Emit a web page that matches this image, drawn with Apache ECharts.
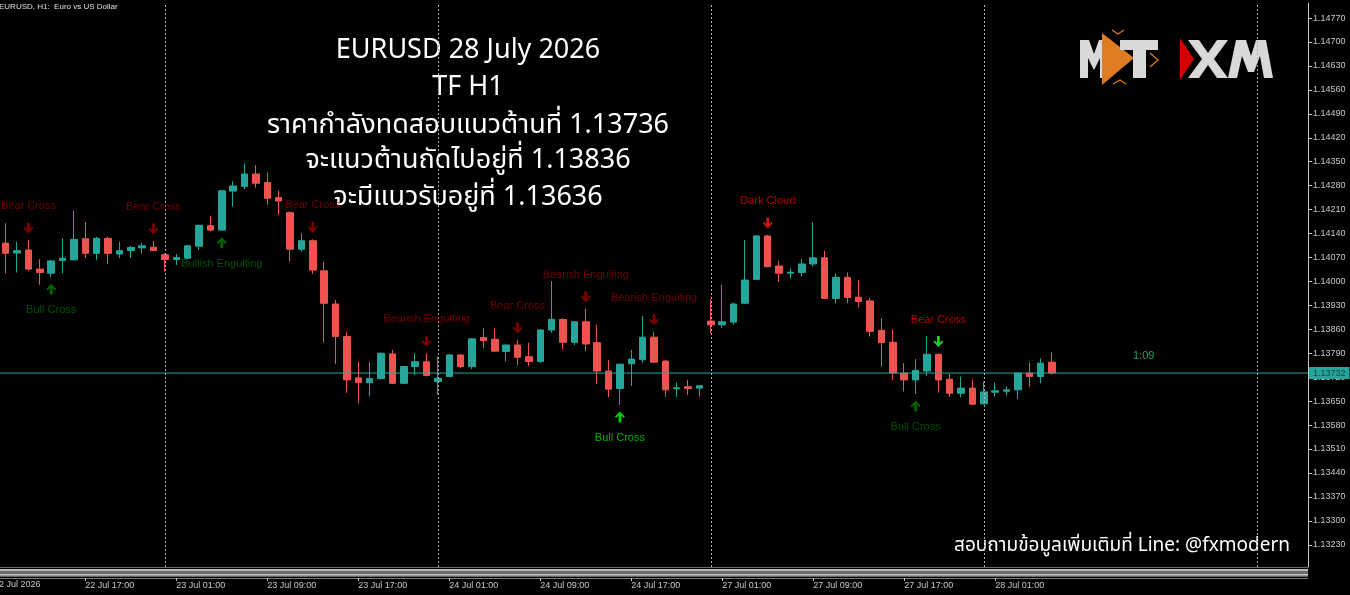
<!DOCTYPE html>
<html><head><meta charset="utf-8">
<script src="https://cdn.jsdelivr.net/npm/echarts@6/dist/echarts.min.js"></script>
<style>html,body{margin:0;padding:0;background:#000;overflow:hidden}#c{width:1350px;height:595px;}</style>
</head><body><div id="c"></div><script>
// ---- data ----
const dayRanges = [['22 Jul',10,23],['23 Jul',0,23],['24 Jul',0,23],['27 Jul',0,23],['28 Jul',0,23],['29 Jul',0,4]];
const categories = [];
dayRanges.forEach(d => { for (let h = d[1]; h <= d[2]; h++) categories.push(d[0] + ' ' + (h < 10 ? '0' : '') + h + ':00'); });

const opens  = [1.14112,1.14083,1.14092,1.14036,1.14024,1.14061,1.14063,1.14125,1.14082,1.14126,1.14080,1.14090,1.14098,1.14100,1.14078,1.14064,1.14068,1.14103,1.14163,1.14150,1.14264,1.14278,1.14314,1.14289,1.14245,1.14201,1.14094,1.14119,1.14031,1.13934,1.13839,1.13718,1.13704,1.13716,1.13788,1.13702,1.13751,1.13765,1.13707,1.13722,1.13785,1.13751,1.13836,1.13831,1.13795,1.13814,1.13780,1.13766,1.13858,1.13889,1.13822,1.13882,1.13821,1.13738,1.13687,1.13759,1.13771,1.13837,1.13767,1.13686,1.13692,1.13688,1.13884,1.13873,1.13881,1.13936,1.14006,1.14133,1.14045,1.14024,1.14026,1.14051,1.14069,1.13950,1.14012,1.13954,1.13943,1.13857,1.13822,1.13732,1.13712,1.13738,1.13787,1.13714,1.13673,1.13688,1.13642,1.13676,1.13679,1.13683,1.13732,1.13722,1.13764];
const closes = [1.14082,1.14090,1.14036,1.14026,1.14060,1.14068,1.14123,1.14082,1.14126,1.14082,1.14090,1.14099,1.14104,1.14090,1.14064,1.14070,1.14104,1.14164,1.14150,1.14265,1.14279,1.14314,1.14287,1.14243,1.14235,1.14094,1.14119,1.14033,1.13936,1.13839,1.13712,1.13704,1.13716,1.13790,1.13702,1.13751,1.13765,1.13725,1.13717,1.13785,1.13751,1.13832,1.13827,1.13796,1.13814,1.13778,1.13766,1.13858,1.13889,1.13822,1.13882,1.13817,1.13738,1.13685,1.13758,1.13773,1.13837,1.13764,1.13683,1.13689,1.13687,1.13695,1.13873,1.13882,1.13934,1.14004,1.14133,1.14043,1.14024,1.14027,1.14051,1.14069,1.13950,1.14012,1.13953,1.13941,1.13854,1.13821,1.13732,1.13712,1.13740,1.13787,1.13712,1.13673,1.13688,1.13641,1.13677,1.13680,1.13683,1.13732,1.13722,1.13761,1.13732];
const lows   = [1.14024,1.14026,1.14031,1.13990,1.14012,1.14024,1.14061,1.14068,1.14063,1.14051,1.14068,1.14068,1.14082,1.14089,1.14030,1.14048,1.14065,1.14092,1.14147,1.14148,1.14218,1.14269,1.14274,1.14224,1.14194,1.14058,1.14087,1.14022,1.13821,1.13759,1.13674,1.13643,1.13664,1.13713,1.13700,1.13700,1.13727,1.13722,1.13669,1.13720,1.13746,1.13744,1.13805,1.13795,1.13766,1.13755,1.13752,1.13762,1.13850,1.13802,1.13814,1.13797,1.13700,1.13661,1.13639,1.13694,1.13762,1.13762,1.13663,1.13663,1.13668,1.13663,1.13848,1.13863,1.13873,1.13934,1.14004,1.14041,1.13999,1.14009,1.14014,1.14043,1.13948,1.13936,1.13936,1.13924,1.13839,1.13751,1.13712,1.13678,1.13671,1.13724,1.13675,1.13663,1.13661,1.13639,1.13640,1.13663,1.13666,1.13656,1.13692,1.13702,1.13727];
const highs  = [1.14170,1.14116,1.14121,1.14065,1.14063,1.14126,1.14206,1.14173,1.14131,1.14131,1.14116,1.14104,1.14113,1.14118,1.14082,1.14080,1.14107,1.14166,1.14192,1.14267,1.14293,1.14345,1.14340,1.14319,1.14265,1.14205,1.14141,1.14123,1.14058,1.13946,1.13853,1.13765,1.13765,1.13792,1.13800,1.13753,1.13790,1.13790,1.13780,1.13788,1.13788,1.13834,1.13863,1.13863,1.13816,1.13829,1.13821,1.13860,1.14001,1.13892,1.13884,1.13920,1.13873,1.13770,1.13760,1.13800,1.13899,1.13853,1.13770,1.13704,1.13712,1.13697,1.13948,1.13990,1.13938,1.14121,1.14135,1.14136,1.14061,1.14038,1.14065,1.14172,1.14090,1.14024,1.14026,1.14004,1.13951,1.13892,1.13860,1.13761,1.13773,1.13841,1.13789,1.13730,1.13722,1.13712,1.13707,1.13704,1.13693,1.13734,1.13763,1.13775,1.13792];

const yTickLabels = ['1.13230','1.13300','1.13370','1.13440','1.13510','1.13580','1.13650','1.13720','1.13790','1.13860','1.13930','1.14000','1.14070','1.14140','1.14210','1.14280','1.14350','1.14420','1.14490','1.14560','1.14630','1.14700','1.14770'];
const currentPrice = 1.13732;
const separatorIdx = [14, 38, 62, 86, 110];

// annotations: candle index, direction, text, text colour, arrow colour
const annIdx   = [2, 4, 13, 19, 27, 37, 45, 51, 57, 54, 67, 82, 80];
const annDir   = ['down','up','down','up','down','down','down','down','down','up','down','down','up'];
const annText  = ['Bear Cross','Bull Cross','Bear Cross','Bullish Engulfing','Bear Cross','Bearish Engulfing','Bear Cross','Bearish Engulfing','Bearish Engulfing','Bull Cross','Dark Cloud','Bear Cross','Bull Cross'];
const annTextColor  = ['#8b0000','#006400','#8b0000','#006400','#8b0000','#8b0000','#8b0000','#8b0000','#8b0000','#00dd00','#e60000','#e60000','#006400'];
const annArrowColor = ['#9a0000','#007a00','#9a0000','#007a00','#9a0000','#9a0000','#9a0000','#9a0000','#9a0000','#00ff00','#ff1a1a','#33ff33','#007a00'];

const titleLines = ['EURUSD 28 July 2026','TF H1','ราคากำลังทดสอบแนวต้านที่ 1.13736','จะแนวต้านถัดไปอยู่ที่ 1.13836','จะมีแนวรับอยู่ที่ 1.13636'];
const footerText = 'สอบถามข้อมูลเพิ่มเติมที่ Line: @fxmodern';
const headerText = 'EURUSD, H1:  Euro vs US Dollar';

// ---- chart ----
const TEAL = '#26a69a', RED = '#ef5350';
const candles = opens.map((o, i) => [o, closes[i], lows[i], highs[i]]);
const arrowPath = 'path://M3.6,0 L6.4,0 L6.4,6.6 L8.7,4.3 L10,5.7 L5,11 L0,5.7 L1.3,4.3 L3.6,6.6 Z';
const annData = annIdx.map((ci, k) => {
  const down = annDir[k] === 'down';
  return {
    value: [ci, down ? highs[ci] : lows[ci]],
    symbolRotate: down ? 0 : 180,
    symbolOffset: [0, down ? -12 : 12],
    itemStyle: { color: annArrowColor[k] },
    label: { show: true, formatter: annText[k], color: annTextColor[k], position: 'inside', offset: [0, down ? -22 : 21] }
  };
});
const labelIdx = (i) => (i - 7) % 8 === 0 && i <= 92 && i >= 7;
const FONT = '"Liberation Sans", Arial, sans-serif';
const THAI = '"Noto Sans", "Noto Sans Thai", "Open Sans", sans-serif';

const chart = echarts.init(document.getElementById('c'), null, { renderer: 'canvas' });
const LG = '#d9d9d9', OR = '#e07b24';
chart.setOption({
  backgroundColor: '#000000',
  animation: false,
  grid: { left: 0, right: 42, top: 3, bottom: 28 },
  xAxis: [{
    type: 'category', data: categories, boundaryGap: true, offset: 11,
    axisLine: { show: true, onZero: false, lineStyle: { color: '#7a7a7a' } },
    axisTick: { show: true, interval: (i) => labelIdx(i), alignWithLabel: true, length: 3, lineStyle: { color: '#c8c8c8' } },
    axisLabel: { interval: (i) => labelIdx(i), align: 'left', color: '#c8c8c8', fontSize: 9, fontFamily: FONT, margin: 3 },
    splitLine: { show: false }
  }, {
    type: 'value', min: 0, max: 1, show: false, axisLine: { onZero: false }
  }],
  yAxis: {
    type: 'value', position: 'right', min: 1.13165, max: 1.14814, scale: true,
    axisLine: { show: true, onZero: false, lineStyle: { color: '#c8c8c8' } },
    axisTick: { show: true, length: 4, customValues: yTickLabels.map(Number), lineStyle: { color: '#c8c8c8' } },
    axisLabel: { customValues: yTickLabels.map(Number), formatter: (v) => v.toFixed(5), color: '#c8c8c8', fontSize: 9, fontFamily: FONT, margin: 5 },
    splitLine: { show: false }
  },
  series: [
    {
      type: 'candlestick', data: candles, barWidth: 7,
      itemStyle: { color: TEAL, color0: RED, borderColor: TEAL, borderColor0: RED, borderWidth: 1 },
      markLine: {
        silent: true, symbol: 'none', animation: false,
        data: separatorIdx.map(i => ({ xAxis: categories[i], lineStyle: { color: '#b0b0b0', type: [2, 2], width: 1 }, label: { show: false } }))
      }
    },
    {
      type: 'line', xAxisIndex: 1, data: [[0, currentPrice], [1, currentPrice]], symbol: 'none', silent: true, clip: false, z: 3,
      lineStyle: { color: TEAL, width: 1 },
      endLabel: { show: true, formatter: () => currentPrice.toFixed(5), backgroundColor: TEAL, borderRadius: 0, color: '#0f4540', fontSize: 9, fontFamily: FONT, padding: [2, 4, 1, 4], distance: 1 }
    },
    {
      type: 'scatter', data: annData, symbol: arrowPath, symbolSize: [10, 11], z: 5,
      label: { fontSize: 11, fontFamily: FONT }
    }
  ],
  graphic: [
    { type: 'text', left: -1, top: 3, style: { text: headerText, fill: '#e0e0e0', font: '8px ' + FONT } },
    { type: 'text', x: -6, y: 580, style: { text: '22 Jul 2026', fill: '#c8c8c8', font: '9px ' + FONT } },
    // bottom strip
    { type: 'rect', shape: { x: 0, y: 567, width: 1308, height: 1 }, style: { fill: '#6e6e6e' } },
    { type: 'rect', shape: { x: 0, y: 569, width: 1308, height: 2.5 }, style: { fill: '#bdbdbd' } },
    { type: 'rect', shape: { x: 0, y: 572, width: 1308, height: 1 }, style: { fill: '#777' } },
    { type: 'rect', shape: { x: 0, y: 573.5, width: 1308, height: 3 }, style: { fill: '#c8c8c8' } },
    { type: 'rect', shape: { x: 0, y: 575.5, width: 1308, height: 1 }, style: { fill: '#666' } },
    // title
    ...titleLines.map((t, i) => ({ type: 'text', x: 468, y: [50, 87, 125, 160, 197][i], style: { text: t, fill: '#ffffff', font: '27px ' + THAI, textAlign: 'center', textVerticalAlign: 'middle' } })),
    { type: 'text', x: 1290, y: 546, style: { text: footerText, fill: '#ffffff', font: '19px ' + THAI, textAlign: 'right', textVerticalAlign: 'middle' } },
    { type: 'text', x: 1133, y: 356, style: { text: '1:09', fill: '#2e9a5a', font: '11px ' + FONT, textVerticalAlign: 'middle' } },
    // logo
    { type: 'polygon', shape: { points: [[1080,78],[1080,40],[1089,40],[1094,54],[1099,40],[1108,40],[1108,78],[1100,78],[1100,58],[1094,70],[1088,58],[1088,78]] }, style: { fill: LG } },
    { type: 'polygon', shape: { points: [[1102,33],[1134,58],[1102,85]] }, style: { fill: OR } },
    { type: 'polyline', shape: { points: [[1112,30],[1118,34],[1124,30]] }, style: { stroke: OR, lineWidth: 1.2, fill: null } },
    { type: 'polyline', shape: { points: [[1113,84],[1120,80],[1126,84]] }, style: { stroke: OR, lineWidth: 1.2, fill: null } },
    { type: 'polyline', shape: { points: [[1150,53],[1158,60],[1150,67]] }, style: { stroke: OR, lineWidth: 1.2, fill: null } },
    { type: 'polygon', shape: { points: [[1120,40],[1158,40],[1158,50],[1146,50],[1146,78],[1133,78],[1133,50],[1120,50]] }, style: { fill: LG } },
    { type: 'polygon', shape: { points: [[1180,38],[1194,59],[1180,80]] }, style: { fill: '#d40000' } },
    { type: 'polygon', shape: { points: [[1188,40],[1199,40],[1208,53],[1217,40],[1228,40],[1214,59],[1228,78],[1217,78],[1208,65],[1199,78],[1188,78],[1202,59]] }, style: { fill: LG } },
    { type: 'polygon', shape: { points: [[1228,78],[1236,40],[1246,40],[1251,56],[1256,40],[1266,40],[1273,78],[1264,78],[1260,56],[1254,72],[1248,72],[1242,56],[1237,78]] }, style: { fill: LG } }
  ]
});
</script></body></html>
